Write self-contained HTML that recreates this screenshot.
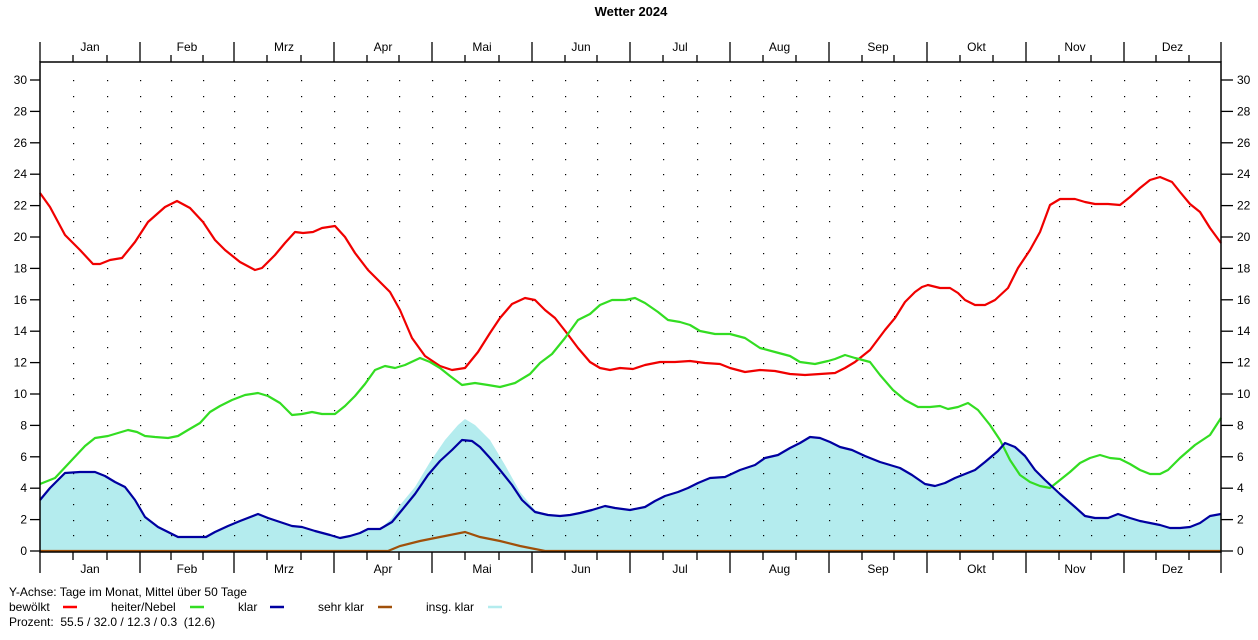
<!DOCTYPE html>
<html><head><meta charset="utf-8"><style>
body{margin:0;background:#fff;width:1258px;height:635px;overflow:hidden;font-family:"Liberation Sans",Arial,sans-serif}
svg text{font-family:"Liberation Sans",Arial,sans-serif;font-size:12px;fill:#000}
</style></head><body>
<svg id="s" width="1258" height="635" xmlns="http://www.w3.org/2000/svg">
<text x="631" y="16" text-anchor="middle" font-weight="bold" style="font-size:13px">Wetter 2024</text>
<polygon id="fill" fill="#b4ecee" stroke="none"/>
<g id="grid"></g>
<polyline id="red" fill="none" stroke="#f00000" stroke-width="2.2" stroke-linejoin="round"/>
<polyline id="green" fill="none" stroke="#33dd22" stroke-width="2.2" stroke-linejoin="round"/>
<polyline id="blue" fill="none" stroke="#0000a0" stroke-width="2.2" stroke-linejoin="round"/>
<polyline id="brown" fill="none" stroke="#a0500a" stroke-width="2.2" points="40,551 388,551 400,546 420,541 440,537 465,532 480,537 500,541 520,546 545,551 1221,551"/>
<rect x="40" y="62" width="1181" height="490" fill="none" stroke="#000" stroke-width="1.5"/>
<g id="axes" stroke="#000" stroke-width="1.3"></g>
<g id="labels"></g>
<text x="9" y="596">Y-Achse: Tage im Monat, Mittel über 50 Tage</text>
<text x="9" y="611">bewölkt</text><line x1="63" y1="607" x2="77" y2="607" stroke="#f00" stroke-width="2.5"/>
<text x="111" y="611">heiter/Nebel</text><line x1="190" y1="607" x2="204" y2="607" stroke="#33dd22" stroke-width="2.5"/>
<text x="238" y="611">klar</text><line x1="270" y1="607" x2="284" y2="607" stroke="#0000a0" stroke-width="2.5"/>
<text x="318" y="611">sehr klar</text><line x1="378" y1="607" x2="392" y2="607" stroke="#a0500a" stroke-width="2.5"/>
<text x="426" y="611">insg. klar</text><line x1="488" y1="607" x2="502" y2="607" stroke="#b4ecee" stroke-width="2.5"/>
<text x="9" y="626">Prozent:&#160; 55.5 / 32.0 / 12.3 / 0.3&#160; (12.6)</text>
</svg>
<script>
const NS="http://www.w3.org/2000/svg";
function el(p,t,a,txt){const e=document.createElementNS(NS,t);for(const k in a)e.setAttribute(k,a[k]);if(txt!==undefined)e.textContent=String(txt);p.appendChild(e);return e;}
const B=[40,140,234,334,432,532,630,730,829,927,1026,1124,1221];
const M=["Jan","Feb","Mrz","Apr","Mai","Jun","Jul","Aug","Sep","Okt","Nov","Dez"];
const g=document.getElementById('grid'),ax=document.getElementById('axes'),lb=document.getElementById('labels');
let xs=[];
for(let i=0;i<12;i++){const a=B[i],b=B[i+1],w=(b-a)/3;xs.push(a,a+w,a+2*w);}
const Y=v=>551-v*15.7;
for(const x of xs){if(x<=41)continue;for(let v=1;v<=30;v++){el(g,'rect',{x:Math.round(x),y:Math.round(Y(v)),width:1.2,height:1.2,fill:'#000'});}}
for(let i=0;i<=12;i++){el(ax,'line',{x1:B[i],y1:42,x2:B[i],y2:62});el(ax,'line',{x1:B[i],y1:552,x2:B[i],y2:573});}
for(let i=0;i<12;i++){const a=B[i],w=(B[i+1]-a)/3;for(const k of [1,2]){const x=Math.round(a+k*w);el(ax,'line',{x1:x,y1:55,x2:x,y2:62});el(ax,'line',{x1:x,y1:552,x2:x,y2:560});}
const c=a+(B[i+1]-a)/2;el(lb,'text',{x:c,y:51,'text-anchor':'middle'},M[i]);el(lb,'text',{x:c,y:573,'text-anchor':'middle'},M[i]);}
for(let v=0;v<=30;v+=2){const y=Y(v);el(ax,'line',{x1:30,y1:y,x2:40,y2:y});el(ax,'line',{x1:1221,y1:y,x2:1233,y2:y});
el(lb,'text',{x:27,y:y+4,'text-anchor':'end'},v);el(lb,'text',{x:1237,y:y+4},v);}
const red="40,193 50,207 65,235 80,250 93,264 100,264 110,260 122,258 135,242 148,222 165,207 177,201 190,208 203,222 215,240 225,250 240,262 255,270 262,268 275,255 285,243 295,232 303,233 313,232 322,228 335,226 345,237 355,253 368,270 380,282 390,292 400,310 412,338 425,356 440,366 452,370 465,368 478,352 490,333 500,318 512,304 525,298 535,300 545,310 555,318 566,332 578,348 590,362 600,368 610,370 620,368 633,369 645,365 660,362 675,362 690,361 705,363 720,364 730,368 745,372 760,370 775,371 790,374 805,375 820,374 835,373 845,368 855,362 870,350 885,330 895,318 905,302 915,292 922,287 928,285 940,288 950,288 958,293 965,300 975,305 985,305 995,300 1008,288 1018,268 1030,250 1040,232 1050,205 1060,199 1075,199 1085,202 1095,204 1108,204 1120,205 1130,197 1140,188 1150,180 1160,177 1172,182 1180,192 1190,204 1200,212 1210,228 1221,243";
const green="40,484 55,478 70,462 85,446 95,438 108,436 118,433 128,430 137,432 145,436 155,437 168,438 178,436 188,430 200,423 210,412 220,406 232,400 245,395 258,393 268,396 280,403 292,415 302,414 312,412 322,414 335,414 345,406 355,396 365,384 375,370 385,366 395,368 405,365 420,358 430,362 440,368 450,376 462,385 475,383 488,385 500,387 515,383 530,374 540,363 552,354 565,338 578,320 590,314 600,305 612,300 625,300 635,298 645,303 658,312 668,320 680,322 690,325 700,331 715,334 730,334 745,338 760,348 775,352 790,356 800,362 815,364 828,361 835,359 845,355 855,358 870,362 880,375 893,390 905,400 918,407 930,407 940,406 948,409 958,407 968,403 978,410 990,425 1000,440 1010,460 1020,475 1030,482 1040,486 1050,488 1060,480 1070,472 1080,463 1090,458 1100,455 1110,458 1120,459 1130,464 1140,470 1150,474 1160,474 1168,470 1180,458 1195,445 1210,435 1221,418";
const blue="40,500 50,488 65,473 80,472 95,472 105,476 115,482 125,487 135,500 145,517 158,527 170,533 178,537 192,537 206,537 215,532 228,526 240,521 258,514 268,518 280,522 292,526 302,527 315,531 330,535 340,538 350,536 360,533 368,529 380,529 392,522 402,510 415,494 428,475 440,461 452,450 462,440 472,441 480,447 490,458 500,470 512,485 522,500 535,512 548,515 560,516 570,515 580,513 592,510 605,506 615,508 630,510 645,507 655,501 665,496 678,492 688,488 698,483 710,478 725,477 740,470 755,465 765,458 778,455 790,448 800,443 810,437 820,438 830,442 840,447 852,450 865,456 880,462 890,465 900,468 912,475 925,484 935,486 945,483 955,478 965,474 975,470 985,462 998,451 1005,443 1015,447 1025,456 1035,470 1045,480 1060,494 1075,507 1085,516 1095,518 1108,518 1118,514 1130,518 1140,521 1150,523 1160,525 1170,528 1180,528 1190,527 1200,523 1210,516 1221,514";
document.getElementById('red').setAttribute('points',red);
document.getElementById('green').setAttribute('points',green);
document.getElementById('blue').setAttribute('points',blue);
const bp=blue.split(' ').map(p=>p.split(',').map(Number));
const pk=[[392,518],[400,505],[415,487],[430,462],[445,440],[458,425],[465,419],[475,425],[490,440],[505,465],[520,492],[535,510]];
let f=bp.filter(p=>p[0]<392).concat(pk).concat(bp.filter(p=>p[0]>535));
document.getElementById('fill').setAttribute('points','40,551 '+f.map(p=>p.join(',')).join(' ')+' 1221,551');
</script>
</body></html>
